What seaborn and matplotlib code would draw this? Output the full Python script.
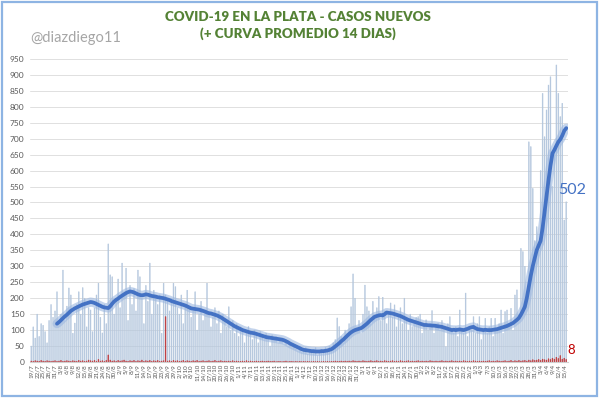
import numpy as np
import pandas as pd
import matplotlib
matplotlib.use("Agg")
import matplotlib.pyplot as plt
import seaborn as sns
from matplotlib.patches import Rectangle

# casos nuevos por dia (19/7/2020 -> 16/4/2021)
casos = [
    50, 110, 75, 150, 80, 120, 115, 95, 60, 130,
    180, 140, 160, 220, 120, 150, 288, 130, 175, 232,
    210, 90, 122, 180, 220, 150, 233, 200, 110, 170,
    163, 95, 169, 210, 247, 140, 91, 180, 120, 370,
    273, 267, 150, 200, 260, 170, 310, 220, 294, 130,
    240, 180, 230, 160, 288, 267, 200, 120, 240, 190,
    310, 150, 225, 200, 180, 210, 90, 247, 210, 190,
    160, 200, 247, 236, 170, 150, 210, 120, 180, 225,
    170, 140, 160, 220, 100, 150, 190, 130, 160, 247,
    150, 110, 140, 170, 120, 160, 90, 150, 130, 110,
    173, 100, 130, 90, 120, 80, 110, 95, 60, 100,
    111, 90, 70, 100, 85, 60, 95, 80, 70, 90,
    75, 50, 85, 70, 80, 60, 75, 65, 55, 70,
    50, 60, 45, 55, 40, 35, 50, 30, 40, 45,
    25, 40, 35, 30, 45, 20, 35, 40, 30, 45,
    35, 50, 45, 60, 70, 138, 111, 80, 60, 100,
    90, 120, 173, 276, 200, 110, 130, 90, 150, 241,
    173, 160, 120, 190, 140, 170, 205, 130, 203, 160,
    120, 150, 185, 140, 179, 110, 150, 170, 120, 200,
    130, 100, 150, 111, 120, 140, 142, 150, 90, 120,
    132, 100, 110, 161, 90, 120, 122, 100, 130, 110,
    48, 120, 142, 100, 90, 110, 80, 163, 100, 90,
    216, 80, 110, 100, 142, 90, 120, 142, 70, 100,
    137, 90, 110, 137, 80, 137, 100, 120, 163, 90,
    158, 163, 120, 168, 100, 210, 226, 150, 356, 346,
    300, 200, 690, 675, 544, 380, 424, 350, 600, 842,
    706, 790, 868, 894, 550, 664, 931, 842, 769, 811,
    445, 502,
]

# fallecidos por dia
fallecidos = [
    3, 2, 4, 3, 2, 5, 3, 2, 4, 3,
    2, 3, 4, 2, 3, 5, 2, 3, 4, 3,
    2, 4, 3, 2, 5, 3, 4, 2, 3, 6,
    4, 3, 5, 2, 8, 3, 4, 2, 5, 22,
    6, 3, 4, 2, 5, 3, 4, 6, 3, 2,
    4, 3, 5, 2, 4, 3, 6, 2, 4, 3,
    5, 2, 4, 3, 5, 2, 3, 4, 142, 3,
    4, 2, 5, 3, 4, 2, 3, 5, 2, 4,
    3, 2, 4, 3, 5, 2, 3, 4, 2, 3,
    4, 2, 3, 5, 2, 3, 4, 2, 3, 2,
    3, 2, 4, 2, 3, 2, 2, 3, 2, 4,
    2, 3, 2, 2, 3, 2, 2, 3, 2, 2,
    3, 2, 2, 3, 1, 2, 2, 1, 2, 3,
    1, 2, 2, 1, 2, 1, 2, 1, 2, 1,
    2, 1, 1, 2, 1, 2, 1, 1, 2, 1,
    2, 1, 2, 2, 3, 2, 2, 3, 2, 3,
    2, 3, 2, 4, 3, 2, 3, 2, 4, 3,
    2, 3, 4, 2, 3, 4, 2, 3, 2, 4,
    3, 2, 3, 4, 2, 3, 2, 4, 3, 2,
    3, 4, 2, 3, 2, 3, 4, 2, 3, 2,
    3, 2, 4, 3, 2, 3, 2, 3, 4, 2,
    3, 2, 3, 4, 2, 3, 2, 3, 2, 4,
    3, 2, 3, 2, 4, 3, 2, 3, 2, 3,
    2, 3, 4, 2, 3, 2, 4, 3, 2, 3,
    4, 2, 3, 5, 2, 4, 3, 5, 3, 4,
    5, 3, 6, 4, 7, 5, 6, 8, 5, 9,
    7, 6, 10, 8, 12, 9, 15, 11, 20, 9,
    12, 8,
]

# curva promedio 14 dias (desde el dia 14)
promedio = [
    120, 125, 131, 137, 143, 148, 154, 160,
    164, 168, 171, 174, 177, 180, 182, 184, 186,
    188, 187, 185, 182, 179, 176, 173, 171,
    170, 169, 175, 183, 190, 195,
    199, 204, 208, 212, 216, 219, 221,
    220, 218, 215, 212, 210, 209,
    210, 212, 211, 209, 207, 206, 205, 203,
    202, 201, 200, 198, 196, 194, 191, 189,
    187, 185, 183, 181, 179, 177, 174, 171, 168,
    167, 166, 165, 164, 162, 160, 158, 155, 153,
    152, 150, 148, 146, 143, 140, 136, 132,
    128, 124, 120, 116, 112, 109, 106,
    103, 100, 98, 96, 94, 92,
    91, 90, 88, 86, 84, 82, 80, 78,
    77, 76, 75, 74, 73, 72, 71, 70,
    68, 65, 62, 58, 55,
    52, 49, 46, 43, 40,
    38, 37, 36, 35, 34, 34, 33,
    33, 33, 34, 34, 35, 36, 38, 40,
    44, 49, 54, 59, 65,
    70, 76, 82, 88, 93, 97, 100,
    102, 104, 106, 110, 115, 120,
    126, 132, 137, 142,
    144, 146, 147, 146, 150, 155,
    154, 153, 152, 150, 148,
    146, 144, 141, 138, 135, 132,
    130, 128, 126, 124, 122, 120, 118, 116,
    116, 115, 115, 114, 114, 113, 112, 111, 110,
    108, 106, 104, 102, 100,
    101, 100, 101, 102, 101, 100, 102, 104, 107, 109, 110,
    106, 103, 102, 101, 100, 101, 100, 100, 100,
    101, 102, 103, 105, 107, 109, 111, 113, 116,
    119, 122, 127, 132, 138,
    148, 160, 173,
    200, 235, 270,
    300, 325, 350, 365, 380,
    420, 470, 520, 570, 615, 654,
    665, 678, 690, 698,
    710, 725, 733,
]

fechas = pd.date_range("2020-07-19", periods=len(casos))
etiquetas = [f"{d.day}/{d.month}" for d in fechas]
dias = np.arange(len(casos))

sns.set_style("white")
plt.rcParams["font.family"] = ["Lato", "DejaVu Sans"]

fig = plt.figure(figsize=(5.99, 3.98), dpi=100)
ax = fig.add_axes([0.050, 0.0905, 0.898, 0.7615])

sns.barplot(x=dias, y=casos, color="#b3c6dd", saturation=1, width=0.45,
            edgecolor="#b3c6dd", linewidth=0.3, ax=ax)
sns.barplot(x=dias, y=fallecidos, color="#c0393b", saturation=1, width=0.45,
            edgecolor="#c0393b", linewidth=0.3, ax=ax)
for p in ax.patches:
    p.set_snap(False)

dias_prom = dias[len(casos) - len(promedio):]
sns.lineplot(x=dias_prom, y=promedio, color="#9db8e0", lw=6.5, alpha=0.6, ax=ax)
sns.lineplot(x=dias_prom, y=promedio, color="#4472c4", lw=2.7, ax=ax)

ax.set_xlim(-0.7, len(casos) - 0.2)
ax.set_ylim(0, 950)
ax.set_yticks(range(0, 951, 50))
ax.yaxis.grid(True, color="#e0e0e0", lw=0.7)
ax.set_axisbelow(True)
for s in ["top", "right", "left"]:
    ax.spines[s].set_visible(False)
ax.spines["bottom"].set_color("#d0d0d0")
ax.tick_params(axis="y", labelsize=6, colors="#595959", length=0, pad=4)
ax.set_xticks(dias[::3])
ax.set_xticklabels(etiquetas[::3], rotation=90, fontsize=4.5, color="#595959")
ax.tick_params(axis="x", length=0, pad=1.5)
ax.set_xlabel("")
ax.set_ylabel("")

ax.text(266.8, 539, str(casos[-1]), color="#4472c4", fontsize=11.5,
        va="center", ha="left", clip_on=False)
ax.text(271.8, 38, str(fallecidos[-1]), color="#c00000", fontsize=9.5,
        va="center", ha="left", clip_on=False)

fig.text(0.497, 0.957, "COVID-19 EN LA PLATA - CASOS NUEVOS", color="#548235",
         fontsize=9.6, fontweight="heavy", ha="center", va="center")
fig.text(0.497, 0.915, "(+ CURVA PROMEDIO 14 DIAS)", color="#548235",
         fontsize=9.6, fontweight="heavy", ha="center", va="center")
fig.text(0.050, 0.905, "@diazdiego11", color="#a6a6a6", fontsize=10.5,
         ha="left", va="center")

fig.patches.append(Rectangle((0.003, 0.004), 0.994, 0.992, transform=fig.transFigure,
                             fill=False, edgecolor="#8eb4e3", lw=1.6))

fig.savefig("out.png", dpi=100)
